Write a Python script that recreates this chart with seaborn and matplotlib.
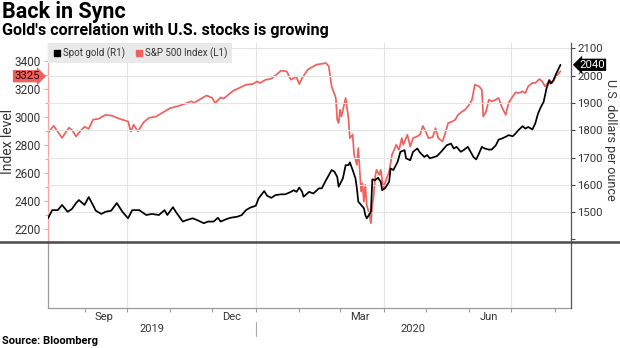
import matplotlib
matplotlib.use("Agg")
import matplotlib.pyplot as plt
import matplotlib.dates as mdates
import matplotlib.transforms as mtransforms
from matplotlib.lines import Line2D
from matplotlib.ticker import FixedLocator, NullFormatter
import seaborn as sns
import pandas as pd

# ---------------- data ----------------
spx_dates = [
    "2019-08-06", "2019-08-10", "2019-08-12", "2019-08-16", "2019-08-19", "2019-08-21", "2019-08-23", "2019-08-26", "2019-08-28",
    "2019-09-01", "2019-09-04", "2019-09-07", "2019-09-11", "2019-09-16", "2019-09-21", "2019-09-24", "2019-09-28",
    "2019-10-02", "2019-10-04", "2019-10-06", "2019-10-09", "2019-10-13", "2019-10-17", "2019-10-22", "2019-10-26",
    "2019-11-01", "2019-11-06", "2019-11-11", "2019-11-16", "2019-11-18", "2019-11-23", "2019-11-27",
    "2019-12-01", "2019-12-03", "2019-12-07", "2019-12-09", "2019-12-13", "2019-12-16", "2019-12-21", "2019-12-25", "2019-12-30",
    "2020-01-02", "2020-01-04", "2020-01-08", "2020-01-12", "2020-01-15", "2020-01-19", "2020-01-23", "2020-01-26", "2020-01-28", "2020-01-30",
    "2020-02-01", "2020-02-03", "2020-02-07", "2020-02-09", "2020-02-13", "2020-02-16", "2020-02-20", "2020-02-22", "2020-02-24", "2020-02-27", "2020-02-28", "2020-02-29",
    "2020-03-01", "2020-03-02", "2020-03-05", "2020-03-07", "2020-03-08", "2020-03-10", "2020-03-11", "2020-03-13", "2020-03-14", "2020-03-16", "2020-03-17", "2020-03-18",
    "2020-03-19", "2020-03-20", "2020-03-22", "2020-03-23", "2020-03-24", "2020-03-25", "2020-03-26", "2020-03-27", "2020-03-29", "2020-03-30", "2020-03-31",
    "2020-04-01", "2020-04-02", "2020-04-05", "2020-04-07", "2020-04-10", "2020-04-12", "2020-04-14", "2020-04-15", "2020-04-18", "2020-04-20", "2020-04-22", "2020-04-25", "2020-04-27", "2020-04-29",
    "2020-05-01", "2020-05-03", "2020-05-06", "2020-05-08", "2020-05-10", "2020-05-13", "2020-05-15", "2020-05-17", "2020-05-20", "2020-05-22", "2020-05-24", "2020-05-27", "2020-05-29",
    "2020-06-01", "2020-06-03", "2020-06-05", "2020-06-08", "2020-06-10", "2020-06-11", "2020-06-13", "2020-06-15", "2020-06-17", "2020-06-20", "2020-06-22", "2020-06-24", "2020-06-27", "2020-06-29",
    "2020-07-02", "2020-07-04", "2020-07-06", "2020-07-09", "2020-07-11", "2020-07-13", "2020-07-16", "2020-07-18", "2020-07-21", "2020-07-23", "2020-07-25", "2020-07-27", "2020-07-28", "2020-07-30",
    "2020-08-01", "2020-08-05",
]
spx_values = [
    2884, 2936, 2907, 2850, 2895, 2922, 2907, 2860, 2886,
    2929, 2914, 2979, 2986, 3014, 3007, 2993, 2979,
    2967, 2895, 2943, 2895, 2960, 2993, 3002, 3026,
    3062, 3074, 3091, 3110, 3100, 3129, 3152,
    3134, 3098, 3138, 3129, 3162, 3186, 3209, 3229, 3234,
    3252, 3241, 3264, 3271, 3295, 3329, 3324, 3264, 3276, 3281,
    3233, 3276, 3336, 3348, 3371, 3376, 3383, 3359, 3217, 3134, 2979, 2955,
    3050, 3002, 3134, 2991, 2848, 2872, 2729, 2657, 2777, 2467, 2527, 2395,
    2515, 2372, 2300, 2241, 2372, 2443, 2574, 2622, 2586, 2622, 2550,
    2491, 2527, 2610, 2729, 2800, 2765, 2848, 2800, 2872, 2788, 2848, 2860, 2875, 2935,
    2895, 2848, 2855, 2919, 2848, 2824, 2884, 2955, 2967, 2979, 3014, 3038, 3050,
    3086, 3122, 3229, 3217, 3193, 3002, 3038, 3122, 3110, 3122, 3134, 3074, 3014, 3098,
    3145, 3174, 3169, 3181, 3169, 3217, 3241, 3241, 3269, 3252, 3217, 3241, 3264, 3241,
    3276, 3325,
]

gold_dates = [
    "2019-08-06", "2019-08-09", "2019-08-13", "2019-08-16", "2019-08-20", "2019-08-23", "2019-08-26", "2019-08-28",
    "2019-09-01", "2019-09-04", "2019-09-07", "2019-09-09", "2019-09-13", "2019-09-16", "2019-09-20", "2019-09-24", "2019-09-28",
    "2019-10-02", "2019-10-05", "2019-10-10", "2019-10-15", "2019-10-19", "2019-10-24", "2019-10-28", "2019-10-30",
    "2019-11-03", "2019-11-05", "2019-11-10", "2019-11-13", "2019-11-17", "2019-11-20", "2019-11-25", "2019-11-28",
    "2019-12-02", "2019-12-05", "2019-12-07", "2019-12-11", "2019-12-14", "2019-12-19", "2019-12-22", "2019-12-25", "2019-12-28",
    "2020-01-01", "2020-01-03", "2020-01-07", "2020-01-09", "2020-01-12", "2020-01-15", "2020-01-19", "2020-01-22", "2020-01-26", "2020-01-28", "2020-01-30",
    "2020-02-01", "2020-02-03", "2020-02-04", "2020-02-08", "2020-02-11", "2020-02-15", "2020-02-17", "2020-02-20", "2020-02-22", "2020-02-24", "2020-02-26", "2020-02-28", "2020-02-29",
    "2020-03-03", "2020-03-05", "2020-03-07", "2020-03-08", "2020-03-10", "2020-03-12", "2020-03-13", "2020-03-14", "2020-03-16", "2020-03-18",
    "2020-03-19", "2020-03-20", "2020-03-22", "2020-03-23", "2020-03-24", "2020-03-26", "2020-03-28", "2020-03-30", "2020-03-31",
    "2020-04-02", "2020-04-05", "2020-04-06", "2020-04-08", "2020-04-11", "2020-04-13", "2020-04-16", "2020-04-17", "2020-04-20", "2020-04-22", "2020-04-25", "2020-04-27", "2020-04-30",
    "2020-05-02", "2020-05-04", "2020-05-07", "2020-05-09", "2020-05-12", "2020-05-14", "2020-05-16", "2020-05-19", "2020-05-21", "2020-05-23", "2020-05-26", "2020-05-28", "2020-05-31",
    "2020-06-02", "2020-06-04", "2020-06-06", "2020-06-08", "2020-06-10", "2020-06-12", "2020-06-15", "2020-06-17", "2020-06-20", "2020-06-22", "2020-06-24", "2020-06-27", "2020-06-29",
    "2020-07-02", "2020-07-04", "2020-07-06", "2020-07-09", "2020-07-11", "2020-07-13", "2020-07-16", "2020-07-18", "2020-07-20", "2020-07-22", "2020-07-24", "2020-07-26", "2020-07-28", "2020-07-29", "2020-07-31",
    "2020-08-02", "2020-08-05",
]
gold_values = [
    1477, 1507, 1507, 1526, 1501, 1511, 1533, 1544,
    1526, 1555, 1526, 1505, 1493, 1501, 1505, 1533, 1501,
    1477, 1507, 1507, 1489, 1493, 1489, 1507, 1489,
    1518, 1501, 1465, 1471, 1477, 1471, 1459, 1465,
    1465, 1479, 1465, 1474, 1479, 1483, 1489, 1507, 1516,
    1523, 1550, 1577, 1560, 1552, 1562, 1565, 1565, 1574, 1580, 1574,
    1590, 1574, 1556, 1574, 1568, 1587, 1587, 1617, 1635, 1654, 1648, 1629, 1593,
    1623, 1672, 1672, 1682, 1654, 1623, 1587, 1538, 1526, 1514,
    1489, 1477, 1492, 1501, 1620, 1617, 1626, 1611, 1580,
    1587, 1611, 1660, 1654, 1684, 1721, 1727, 1697, 1690, 1721, 1733, 1718, 1702,
    1709, 1697, 1702, 1705, 1721, 1733, 1745, 1751, 1733, 1739, 1721, 1727, 1739,
    1721, 1702, 1693, 1715, 1739, 1733, 1729, 1729, 1745, 1766, 1769, 1776, 1782,
    1778, 1788, 1800, 1815, 1806, 1812, 1803, 1824, 1861, 1885, 1904, 1952, 1983, 1971, 1983,
    2008, 2040,
]

spx_ticks = [2200, 2400, 2600, 2800, 3000, 3200, 3400]
gold_ticks = [1500, 1600, 1700, 1800, 1900, 2000, 2100]
spx_last_label = "3325"
gold_last_label = "2040"
title = "Back in Sync"
subtitle = "Gold's correlation with U.S. stocks is growing"
source = "Source: Bloomberg"

# ---------------- styling ----------------
RED = "#f0605d"
PINK = "#f4a3a1"
GRID = "#e4e4e4"
AXGRAY = "#9a9a9a"
TXT = "#333333"

sns.set_theme(style="white")
plt.rcParams["font.family"] = ["Roboto", "DejaVu Sans"]

W, H = 620, 348
fig = plt.figure(figsize=(W / 100, H / 100), dpi=100)
ax = fig.add_axes([48 / W, 40 / H, 523 / W, 265 / H])
ax2 = ax.twinx()

spx = pd.DataFrame({"date": pd.to_datetime(spx_dates), "value": spx_values})
gold = pd.DataFrame({"date": pd.to_datetime(gold_dates), "value": gold_values})

sns.lineplot(data=spx, x="date", y="value", ax=ax, color=RED, linewidth=1.25,
             legend=False, solid_joinstyle="round")
sns.lineplot(data=gold, x="date", y="value", ax=ax2, color="black", linewidth=1.25,
             legend=False, solid_joinstyle="round")

x0, x1 = pd.Timestamp("2019-08-06"), pd.Timestamp("2020-08-12 12:00")
ax.set_xlim(x0, x1)
ax.set_ylim(1637, 3526)
ax2.set_ylim(1148, 2120)

# vertical grid at quarter starts
for q in ["2019-10-01", "2020-01-01", "2020-04-01", "2020-07-01"]:
    ax.axvline(pd.Timestamp(q), color=GRID, lw=0.8, zorder=0)

# horizontal grid at right-axis ticks
ax2.yaxis.set_major_locator(FixedLocator(gold_ticks))
ax2.yaxis.set_minor_locator(FixedLocator([1400]))
ax2.grid(axis="y", which="major", color=GRID, lw=0.8)
ax2.set_axisbelow(True)

ax.yaxis.set_major_locator(FixedLocator(spx_ticks))
ax.yaxis.set_minor_locator(FixedLocator([2300, 2500, 2700, 2900, 3100, 3300]))
ax.tick_params(axis="y", which="major", left=True, length=3, width=0.8, color=PINK,
               labelsize=8.5, labelcolor=TXT, pad=2)
ax.tick_params(axis="y", which="minor", left=True, length=2, width=0.8, color=PINK)
ax2.tick_params(axis="y", which="major", right=True, length=3, width=0.8, color="#444",
                labelsize=8.2, labelcolor=TXT, pad=1.5)
ax2.tick_params(axis="y", which="minor", right=True, length=3, width=0.8, color="#444")

# x axis: month ticks, mid-month labels
ax.xaxis.set_major_locator(mdates.MonthLocator())
ax.xaxis.set_major_formatter(NullFormatter())
ax.xaxis.set_minor_locator(mdates.MonthLocator(bymonth=[9, 12, 3, 6], bymonthday=15))
ax.xaxis.set_minor_formatter(mdates.DateFormatter("%b"))
ax.tick_params(axis="x", which="major", bottom=True, length=3, width=0.8, color=AXGRAY)
ax.tick_params(axis="x", which="minor", bottom=False, length=0, labelsize=8,
               labelcolor=TXT, pad=3)

ax.set_xlabel("")
ax.set_ylabel("")
ax2.set_ylabel("")

# spines
for s in ["top", "right"]:
    ax.spines[s].set_visible(False)
for s in ["top", "left", "bottom"]:
    ax2.spines[s].set_visible(False)
ax.spines["bottom"].set_color(AXGRAY)
ax.spines["bottom"].set_linewidth(0.9)
ax2.spines["right"].set_color("#555")
ax2.spines["right"].set_linewidth(0.9)
sep_frac = (308 - 242) / 265
ax.spines["left"].set_color(PINK)
ax.spines["left"].set_linewidth(0.9)
ax.spines["left"].set_bounds(1637 + sep_frac * (3526 - 1637), 3526)
ax.axvline(x0, ymin=0, ymax=sep_frac, color=AXGRAY, lw=0.9, clip_on=False)

# year labels
xt = ax.get_xaxis_transform()
jan1 = pd.Timestamp("2020-01-01")
ax.text(x0 + (jan1 - x0) / 2, -0.078, "2019", transform=xt, ha="center", va="center",
        fontsize=8, color=TXT)
ax.text(jan1 + (x1 - jan1) / 2, -0.078, "2020", transform=xt, ha="center", va="center",
        fontsize=8, color=TXT)
ax.plot([jan1, jan1], [-0.053, -0.106], transform=xt, color="#aaaaaa", lw=0.8, clip_on=False)

# legend
handles = [
    Line2D([], [], marker="s", color="black", ls="none", markersize=5, label="Spot gold (R1)"),
    Line2D([], [], marker="s", color=RED, ls="none", markersize=5, label="S&P 500 Index (L1)"),
]
leg = ax2.legend(handles=handles, loc="upper left", bbox_to_anchor=(0, 1), ncol=2,
                 frameon=True, fancybox=False, facecolor="#e9e9e9", edgecolor="none",
                 framealpha=1, fontsize=7, handletextpad=0.1, columnspacing=0.9,
                 borderaxespad=0, borderpad=0.45, handlelength=1.0)
for t in leg.get_texts():
    t.set_color(TXT)

# last-value tags
tl = mtransforms.blended_transform_factory(ax.transAxes, ax.transData)
ax2.text(-0.016, spx_values[-1], spx_last_label, transform=tl, ha="right", va="top",
         fontsize=8.2, color="#2a0000", clip_on=False, zorder=10,
         bbox=dict(boxstyle="rarrow,pad=0.1", fc=RED, ec="none"))
tr = mtransforms.blended_transform_factory(ax2.transAxes, ax2.transData)
ax2.text(1.016, gold_values[-1], gold_last_label, transform=tr, ha="left", va="center",
         fontsize=8.2, color="white", clip_on=False, zorder=10,
         bbox=dict(boxstyle="larrow,pad=0.1", fc="black", ec="none"))

# axis titles
fig.text(8 / W, 1 - 141 / H, "Index level", rotation=90, ha="center", va="center",
         fontsize=10, color=TXT)
fig.text(611 / W, 1 - 140 / H, "U.S. dollars per ounce", rotation=270, ha="center",
         va="center", fontsize=9, color=TXT)

# panel separator
fig.add_artist(Line2D([0, 1], [1 - 242 / H] * 2, transform=fig.transFigure,
                      color="#4a4a4a", lw=1.8))

# titles and source
fig.text(2 / W, 1 - 12 / H, title, fontsize=15.5, fontweight="bold", ha="left", va="center",
         color="black")
fig.text(2 / W, 1 - 31 / H, subtitle, fontsize=11.6, fontweight="bold", ha="left",
         va="center", color="black")
fig.text(2 / W, 1 - 341 / H, source, fontsize=8, fontweight="bold", ha="left",
         va="center", color="black")

fig.savefig("out.png", dpi=100, facecolor="white")
